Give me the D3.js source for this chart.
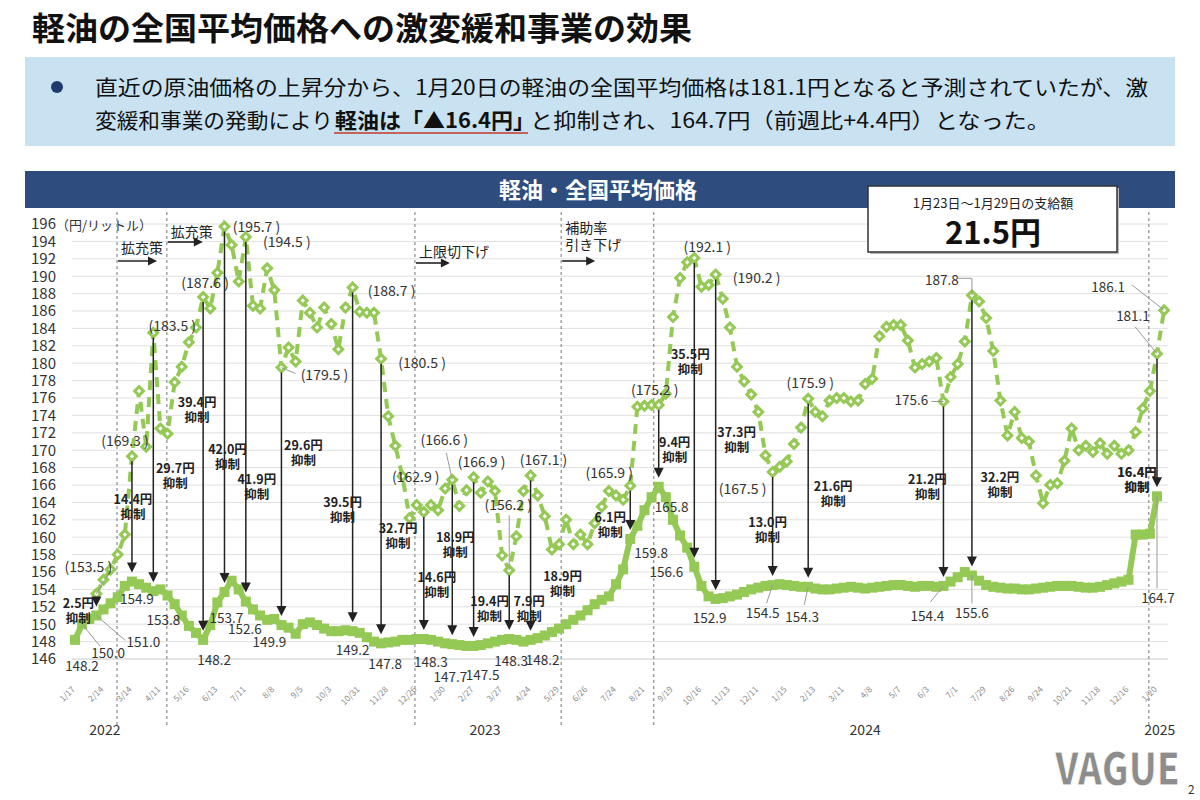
<!DOCTYPE html>
<html>
<head>
<meta charset="utf-8">
<title>軽油の全国平均価格への激変緩和事業の効果</title>
<script src="https://cdn.jsdelivr.net/npm/d3@7"></script>
<style>
  body { margin: 0; background: #fff; }
  svg text { font-family: "Noto Sans CJK JP", "Noto Sans", sans-serif; }
</style>
</head>
<body>
<svg id="chart" width="1200" height="800"></svg>
<script>
// ---- data ----
const weekLabels = ["1/17","2/14","3/14","4/11","5/16","6/13","7/11","8/8","9/5","10/3","10/31","11/28","12/26",
  "1/30","2/27","3/27","4/24","5/29","6/26","7/24","8/21","9/19","10/16","11/13","12/11",
  "1/15","2/13","3/11","4/8","5/7","6/3","7/1","7/29","8/26","9/24","10/21","11/18","12/16","1/20"];
const years = ["2022", "2023", "2024", "2025"];
const yearAt = [4.2, 57.6, 111, 152.4];
const yTicks = d3.range(146, 197, 2);

// actual weekly price (円/L)
const actual = [
  148.2,150.0,150.6,151.0,151.7,152.4,153.1,154.4,154.9,154.6,154.2,153.8,154.0,153.3,152.3,151.0,
  149.8,149.0,148.2,149.9,152.5,153.7,155.0,154.0,152.6,151.7,151.0,150.5,150.6,149.9,149.6,148.9,
  150.0,150.2,149.9,149.5,149.2,149.2,149.3,149.2,149.0,148.5,148.0,147.8,147.9,148.0,148.2,148.2,
  148.3,148.3,148.2,148.0,147.8,147.7,147.6,147.5,147.5,147.6,147.8,148.0,148.2,148.3,148.2,148.0,
  148.2,148.4,148.7,149.1,149.5,150.0,150.5,151.0,151.6,152.3,152.8,153.2,154.6,156.3,159.8,161.3,
  163.1,164.6,165.8,164.6,162.0,160.2,158.8,156.6,154.4,153.2,152.9,153.0,153.2,153.4,153.7,154.0,
  154.2,154.4,154.5,154.6,154.5,154.4,154.3,154.3,154.1,154.0,154.0,154.1,154.2,154.3,154.2,154.1,
  154.2,154.3,154.4,154.5,154.5,154.4,154.3,154.4,154.4,154.3,154.4,154.9,155.4,156.0,155.6,155.0,
  154.5,154.3,154.2,154.1,154.1,154.0,154.0,154.1,154.2,154.3,154.4,154.4,154.4,154.3,154.2,154.2,
  154.3,154.5,154.7,154.9,155.1,160.3,160.3,160.4,164.7
];
// price without the subsidy (円/L)
const noSubsidy = [
  null,null,null,153.5,155.1,156.3,158.0,160.3,169.3,176.8,170.4,183.5,172.5,171.9,177.8,179.6,
  182.4,184.1,187.6,186.3,190.4,195.7,193.6,189.4,194.5,186.6,186.3,190.9,188.4,179.5,181.8,180.2,
  187.2,185.8,184.1,186.4,184.5,181.6,186.4,188.7,185.9,185.8,185.8,180.5,173.9,170.5,167.0,162.2,
  163.7,162.9,163.7,163.1,165.6,166.6,163.6,165.4,166.9,165.1,166.4,165.3,157.9,156.2,160.1,165.3,
  167.1,164.8,162.4,158.6,159.2,162.0,159.2,160.3,159.2,161.6,163.5,165.3,164.8,164.3,165.9,175.0,
  175.1,175.2,175.2,176.5,185.3,189.8,191.6,192.1,188.8,189.0,190.2,187.4,184.1,179.6,177.9,176.4,
  174.4,169.4,167.5,168.1,168.7,170.7,172.6,175.9,174.4,173.9,175.7,176.0,176.0,175.6,175.7,177.6,
  178.2,183.1,184.2,184.4,184.4,182.6,179.5,179.9,180.2,180.6,175.6,178.4,179.9,182.5,187.8,187.1,
  185.2,181.4,175.7,171.7,174.4,171.4,171.0,167.1,163.9,166.0,166.2,168.8,172.5,170.0,170.5,169.8,
  170.8,169.6,170.5,169.6,170.0,172.1,174.8,176.8,181.1,186.1
];
// weeks where the suppression arrow is shown
const cutIdx = [3,8,11,18,21,24,29,39,43,49,53,56,61,64,78,82,87,90,98,103,122,126,152];

// policy change markers (week position) and notes
const policyAt = [5.9, 12.9, 47.75, 68.3, 81.3, 150.85];
const policyText = [["拡充策"], ["拡充策"], ["上限切下げ"], ["補助率", "引き下げ"]];

// ---- annotation layout (pixel offsets from the data point) ----
const cutLabOff = [[-18,-12],[1,-82],[22,-123],[-6,-237],[3,-142],[11,-122],[22,-179],[-10,-129],
  [17,-115],[13,-61],[3,-107],[16,-44],[20,-37],[32,-63],[-20,-21],[16,-44],[-4,-212],[21,-166],
  [-5,-62],[25,-100],[-16,-106],[28,-98],[-20,-24]];
const dashLab = [[3,-8,-27],[8,-7,-15],[11,19,-7],[18,2,-14],[21,32,0],[24,41,5],[29,43,8],[39,39,4],
  [43,41,4],[49,-8,-35],[53,-8,-40],[56,8,-15],[61,-1,-65],[64,13,-15],[78,-21,-13],[82,-4,-15],
  [87,13,-11],[90,41,4],[98,-30,17],[103,2,-16]];
const dashLabPlain = [[122,-32,-1],[126,-30,-15],[153,-56,-23],[152,-24,-37]];
const solidLab = [[0,7,26],[1,26,29],[3,47,27],[8,5,18],[11,10,29],[18,11,20],[21,2,26],[24,-1,28],
  [29,-12,17],[39,0,19],[43,4,21],[49,7,23],[53,-2,33],[56,9,29],[61,2,22],[64,12,20],[78,21,14],
  [82,13,21],[87,-28,5],[90,-6,19],[98,-10,28],[103,-6,30],[122,-16,30],[126,0,38],[152,1,102]];
const leaders = [["s",1,[[18,22]]],["s",3,[[29,25]]],["d",3,[[12,-20]]],["d",29,[[14,6]]],
  ["d",53,[[-6,-27]]],["d",61,[[0,-55]]],["d",122,[[-12,0]]],["d",126,[[0,-17],[-14,-17]]],
  ["d",153,[[-32,-25]]],["d",152,[[-22,-27]]],["s",98,[[-6,18]]],["s",103,[[-4,18]]],
  ["s",122,[[-13,16]]],["s",126,[[0,28]]],["s",152,[[0,92]]]];

// ---- drawing ----
const svg = d3.select("#chart");
const green = "#95c955";
const ink = "#222";

svg.append("rect").attr("width", 1200).attr("height", 800).attr("fill", "#fff");

// title + summary box
svg.append("text").attr("x", 32).attr("y", 40).attr("font-size", 32).attr("font-weight", 700)
  .attr("fill", "#111").attr("textLength", 660).attr("lengthAdjust", "spacingAndGlyphs")
  .text("軽油の全国平均価格への激変緩和事業の効果");

svg.append("rect").attr("x", 25).attr("y", 57).attr("width", 1150).attr("height", 89).attr("fill", "#c8e2f1");
svg.append("circle").attr("cx", 57).attr("cy", 87).attr("r", 6).attr("fill", "#1f3a6e");
svg.append("text").attr("x", 95).attr("y", 95).attr("font-size", 21).attr("fill", "#111")
  .attr("textLength", 1053).attr("lengthAdjust", "spacingAndGlyphs")
  .text("直近の原油価格の上昇分から、1月20日の軽油の全国平均価格は181.1円となると予測されていたが、激");
svg.append("text").attr("x", 95).attr("y", 128).attr("font-size", 21).attr("fill", "#111")
  .attr("textLength", 238).attr("lengthAdjust", "spacingAndGlyphs").text("変緩和事業の発動により");
svg.append("text").attr("x", 335).attr("y", 128).attr("font-size", 21).attr("font-weight", 700).attr("fill", "#111")
  .attr("textLength", 200).attr("lengthAdjust", "spacingAndGlyphs").text("軽油は「▲16.4円」");
svg.append("line").attr("x1", 334).attr("x2", 528).attr("y1", 133).attr("y2", 133)
  .attr("stroke", "#c0392b").attr("stroke-width", 1.5);
svg.append("text").attr("x", 530).attr("y", 128).attr("font-size", 21).attr("fill", "#111")
  .attr("textLength", 520).attr("lengthAdjust", "spacingAndGlyphs")
  .text("と抑制され、164.7円（前週比+4.4円）となった。");

// chart header bar
svg.append("rect").attr("x", 25).attr("y", 171).attr("width", 1150).attr("height", 37).attr("fill", "#2f4c7e");
svg.append("text").attr("x", 598).attr("y", 198).attr("text-anchor", "middle").attr("font-size", 22)
  .attr("font-weight", 700).attr("fill", "#fff").text("軽油・全国平均価格");

const x = d3.scaleLinear().domain([0, 152]).range([75, 1157]);
const y = d3.scaleLinear().domain([146, 196]).range([659, 224]);

// grid
svg.append("g").selectAll("line").data(yTicks).join("line")
  .attr("x1", 72).attr("x2", 1168).attr("y1", d => y(d)).attr("y2", d => y(d))
  .attr("stroke", d => d === 146 ? "#c8c8c8" : "#e0e0e0").attr("stroke-width", 1);

const yAxis = svg.append("g").attr("transform", "translate(58,0)")
  .call(d3.axisLeft(y).tickValues(yTicks).tickSize(0).tickPadding(2));
yAxis.select(".domain").remove();
yAxis.selectAll("text").attr("font-size", 15).attr("fill", "#333");

svg.append("text").attr("x", 56).attr("y", 230).attr("font-size", 13).attr("fill", "#333").text("（円/リットル）");

const xAxis = svg.append("g").attr("transform", `translate(0,${y(146)})`)
  .call(d3.axisBottom(x).tickValues(d3.range(0, 153, 4)).tickFormat((d, i) => weekLabels[i]).tickSize(0));
xAxis.select(".domain").remove();
xAxis.selectAll("text").attr("y", 0).attr("dy", 0).attr("text-anchor", "end")
  .attr("transform", "translate(0,31) rotate(-45)").attr("font-size", 8.5).attr("fill", "#8a8a8a");

svg.append("g").selectAll("text").data(years).join("text")
  .attr("x", (d, i) => x(yearAt[i])).attr("y", 735).attr("text-anchor", "middle")
  .attr("font-size", 14).attr("fill", "#333").text(d => d);

// policy markers
svg.append("g").selectAll("line").data(policyAt).join("line")
  .attr("x1", d => x(d)).attr("x2", d => x(d)).attr("y1", 212).attr("y2", 727)
  .attr("stroke", "#8c8c8c").attr("stroke-width", 1.2).attr("stroke-dasharray", "3,3");

const noteTextY = [248, 232, 252, 228];
const noteArrowY = [261, 242, 263, 261];
const noteArrowLen = [40, 36, 35, 34];
policyText.forEach((lines, k) => {
  const px = x(policyAt[k]);
  lines.forEach((t, j) => {
    svg.append("text").attr("x", px + 4).attr("y", noteTextY[k] + j * 17).attr("dy", "0.35em")
      .attr("font-size", 14).attr("fill", ink).text(t);
  });
  const ay = noteArrowY[k], len = noteArrowLen[k];
  svg.append("line").attr("x1", px + 1).attr("x2", px + len - 6).attr("y1", ay).attr("y2", ay)
    .attr("stroke", ink).attr("stroke-width", 1.6);
  svg.append("path").attr("d", `M${px + len},${ay} L${px + len - 9},${ay - 4.5} L${px + len - 9},${ay + 4.5} Z`)
    .attr("fill", ink);
});

// no-subsidy series (dashed, diamonds)
const dashLine = d3.line().defined(d => d != null).x((d, i) => x(i)).y(d => y(d));
svg.append("path").attr("d", dashLine(noSubsidy)).attr("fill", "none").attr("stroke", green)
  .attr("stroke-width", 4).attr("stroke-dasharray", "10,7");
const dia = svg.append("g").selectAll("g")
  .data(noSubsidy.map((v, i) => ({ v, i })).filter(d => d.v != null)).join("g")
  .attr("transform", d => `translate(${x(d.i)},${y(d.v)})`);
dia.append("path").attr("d", "M0,-6.5 L6.5,0 L0,6.5 L-6.5,0 Z").attr("fill", green);
dia.append("path").attr("d", "M0,-2.2 L2.2,0 L0,2.2 L-2.2,0 Z").attr("fill", "#fff");

// actual series (solid, squares)
const solidLine = d3.line().x((d, i) => x(i)).y(d => y(d));
svg.append("path").attr("d", solidLine(actual)).attr("fill", "none").attr("stroke", green)
  .attr("stroke-width", 6).attr("stroke-linejoin", "round");
svg.append("g").selectAll("rect").data(actual).join("rect")
  .attr("x", (d, i) => x(i) - 5).attr("y", d => y(d) - 5).attr("width", 10).attr("height", 10)
  .attr("fill", green);

// suppression arrows
const arrows = svg.append("g");
cutIdx.forEach((i, k) => {
  const ax = x(i), top = y(noSubsidy[i]) + 5, tip = y(actual[i]) - 9;
  arrows.append("line").attr("x1", ax).attr("x2", ax).attr("y1", top).attr("y2", tip - 8)
    .attr("stroke", ink).attr("stroke-width", 1.5);
  arrows.append("path").attr("d", `M${ax - 5},${tip - 10} L${ax + 5},${tip - 10} L${ax},${tip} Z`).attr("fill", ink);
  const amt = (noSubsidy[i] - actual[i]).toFixed(1) + "円";
  const lx = ax + cutLabOff[k][0], ly = y(actual[i]) + cutLabOff[k][1];
  const fw = i === 152 ? 900 : 700;
  arrows.append("text").attr("x", lx).attr("y", ly).attr("dy", "0.35em").attr("text-anchor", "middle")
    .attr("font-size", 12.5).attr("font-weight", fw).attr("fill", ink).text(amt);
  arrows.append("text").attr("x", lx).attr("y", ly + 15).attr("dy", "0.35em").attr("text-anchor", "middle")
    .attr("font-size", 12.5).attr("font-weight", fw).attr("fill", ink).text("抑制");
});

// leader lines
leaders.forEach(([s, i, pts]) => {
  const v = s === "s" ? actual[i] : noSubsidy[i];
  const px = x(i), py = y(v);
  const coords = [[px, py]].concat(pts.map(p => [px + p[0], py + p[1]]));
  svg.append("path").attr("d", d3.line()(coords)).attr("fill", "none")
    .attr("stroke", "#999").attr("stroke-width", 1);
});

// value labels
const labG = svg.append("g").attr("font-size", 14).attr("fill", "#333");
dashLab.forEach(([i, dx, dy]) => {
  labG.append("text").attr("x", x(i) + dx).attr("y", y(noSubsidy[i]) + dy).attr("dy", "0.35em")
    .attr("text-anchor", "middle").text("(" + noSubsidy[i].toFixed(1) + " )");
});
dashLabPlain.forEach(([i, dx, dy]) => {
  labG.append("text").attr("x", x(i) + dx).attr("y", y(noSubsidy[i]) + dy).attr("dy", "0.35em")
    .attr("text-anchor", "middle").attr("font-size", 13.5).text(noSubsidy[i].toFixed(1));
});
solidLab.forEach(([i, dx, dy]) => {
  labG.append("text").attr("x", x(i) + dx).attr("y", y(actual[i]) + dy).attr("dy", "0.35em")
    .attr("text-anchor", "middle").attr("font-size", 13.5).text(actual[i].toFixed(1));
});

// payment box
svg.append("rect").attr("x", 870).attr("y", 188).attr("width", 249).attr("height", 66)
  .attr("fill", "#bbb");
svg.append("rect").attr("x", 868).attr("y", 186).attr("width", 249).attr("height", 66)
  .attr("fill", "#fff").attr("stroke", "#333").attr("stroke-width", 1.5);
svg.append("text").attr("x", 993).attr("y", 208).attr("text-anchor", "middle").attr("font-size", 13)
  .attr("fill", ink).text("1月23日～1月29日の支給額");
svg.append("text").attr("x", 993).attr("y", 244).attr("text-anchor", "middle").attr("font-size", 31)
  .attr("font-weight", 700).attr("fill", "#111").text("21.5円");

// watermark / page number
svg.append("text").attr("x", 1055).attr("y", 785).attr("font-size", 44).attr("font-weight", 900)
  .attr("fill", "#8d8d8d").attr("stroke", "#fff").attr("stroke-width", 1)
  .attr("textLength", 125).attr("lengthAdjust", "spacingAndGlyphs").attr("font-family", "DejaVu Sans")
  .text("VAGUE");
svg.append("text").attr("x", 1188).attr("y", 794).attr("font-size", 12).attr("fill", "#333").text("2");
</script>
</body>
</html>
